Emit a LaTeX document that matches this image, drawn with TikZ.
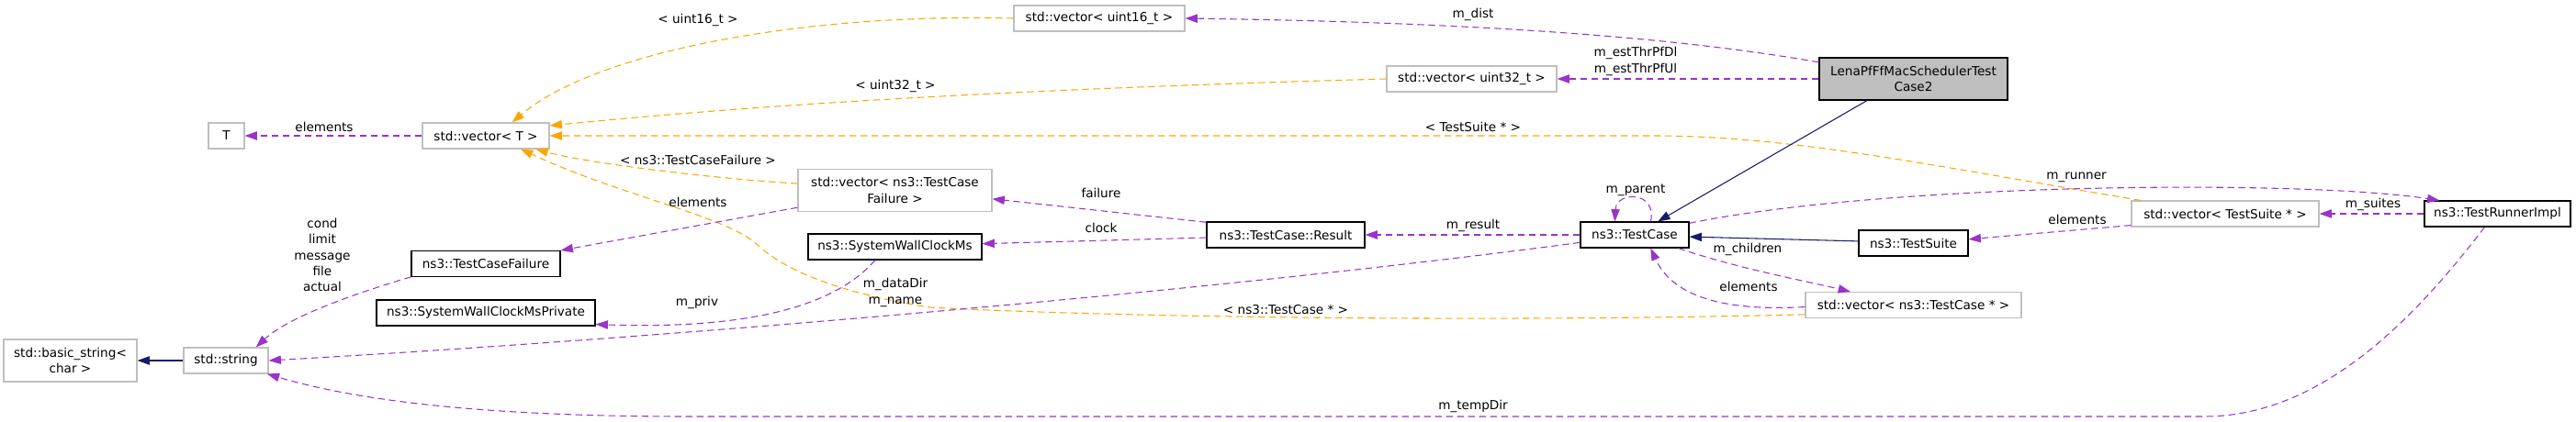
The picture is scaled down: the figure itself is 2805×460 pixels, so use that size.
\documentclass[tikz,border=0pt]{standalone}
\usepackage{fontspec}
\setmainfont{DejaVu Sans}
\usepackage{tikz}
\usetikzlibrary{arrows.meta}
\definecolor{orchid}{HTML}{9A32CD}
\definecolor{tmplorange}{HTML}{FFA500}
\definecolor{navy}{HTML}{191970}
\definecolor{grey75}{HTML}{BFBFBF}

\begin{document}
\begin{tikzpicture}[x=0.75pt, y=-0.75pt,
  >={Triangle[length=10pt,width=7pt]},
  every node/.style={font=\fontsize{10.2}{13}\selectfont, align=center, inner sep=0pt},
  cnode/.style={draw=black, line width=0.85pt, minimum height=21pt},
  gnode/.style={draw=grey75, line width=0.85pt, minimum height=21pt},
  hnode/.style={cnode, fill=grey75},
  lnode/.style={fill=none},
  uses/.style={->, draw=orchid, line width=0.8pt, dash pattern=on 5.5pt off 3.5pt},
  tmpl/.style={->, draw=tmplorange, line width=0.8pt, dash pattern=on 5.5pt off 3.5pt},
  inh/.style={->, draw=navy, line width=0.8pt}]

  \useasboundingbox (0,0) rectangle (2805,460);

  \node (bstr) [gnode, minimum width=108.75pt, minimum height=34.5pt] at (76.5,393) {std::basic\_string<\\char >};
  \node (str) [gnode, minimum width=69pt] at (246,393) {std::string};
  \node (T) [gnode, minimum width=29.25pt] at (246.5,148) {T};
  \node (vT) [gnode, minimum width=103.5pt] at (529,148) {std::vector< T >};
  \node (tcf) [cnode, minimum width=121.5pt] at (529,287.5) {ns3::TestCaseFailure};
  \node (swpriv) [cnode, minimum width=178.5pt] at (529,341) {ns3::SystemWallClockMsPrivate};
  \node (vtcf) [gnode, minimum width=158.25pt, minimum height=34pt] at (974.5,207.5) {std::vector< ns3::TestCase\\Failure >};
  \node (swc) [cnode, minimum width=141.75pt] at (974.5,269) {ns3::SystemWallClockMs};
  \node (u16) [gnode, minimum width=139.5pt] at (1197,20) {std::vector< uint16\_t >};
  \node (res) [cnode, minimum width=129pt] at (1400,256) {ns3::TestCase::Result};
  \node (u32) [gnode, minimum width=138.75pt] at (1602.5,86) {std::vector< uint32\_t >};
  \node (tc) [cnode, minimum width=88.5pt] at (1780,256) {ns3::TestCase};
  \node (lena) [hnode, minimum width=153.75pt, minimum height=34.5pt] at (2083.5,86) {LenaPfFfMacSchedulerTest\\Case2};
  \node (ts) [cnode, minimum width=89.25pt] at (2083.5,265) {ns3::TestSuite};
  \node (vtc) [gnode, minimum width=176.25pt] at (2083.5,332.5) {std::vector< ns3::TestCase * >};
  \node (vts) [gnode, minimum width=153pt] at (2423,233) {std::vector< TestSuite * >};
  \node (tri) [cnode, minimum width=119.25pt] at (2719.5,233) {ns3::TestRunnerImpl};

  % template instances
  \draw [tmpl] (u16.west) .. controls (880,14) and (650,55) .. (vT.27) node[lnode] at (760,22) {< uint16\_t >};
  \draw [tmpl] (u32.west) .. controls (1000,100) and (750,122) .. (vT.9) node[lnode] at (975,94) {< uint32\_t >};
  \draw [tmpl] (vts.171) .. controls (2100,180) and (1950,148) .. (1800,148) -- (vT.east) node[lnode] at (1604,138) {< TestSuite * >};
  \draw [tmpl] (vtcf.176) .. controls (780,195) and (640,178) .. (vT.-15) node[lnode] at (760,174) {< ns3::TestCaseFailure >};
  \draw [tmpl] (vtc.185) .. controls (1600,352) and (1200,345) .. (1012,335) .. controls (930,322) and (860,300) .. (825,267) .. controls (790,235) and (680,215) .. (vT.-21) node[lnode] at (1400,338) {< ns3::TestCase * >};

  % members
  \draw [uses] (vT) -- (T) node[lnode] at (353,138) {elements};
  \draw [uses] (tcf.190) .. controls (420,310) and (320,340) .. (str.24) node[lnode] at (351,278) {cond\\limit\\message\\file\\actual};
  \draw [uses] (vtcf.190) -- (tcf.north east) node[lnode] at (760,220) {elements};
  \draw [uses] (swc.214) .. controls (900,345) and (780,358) .. (swpriv.-6) node[lnode] at (759,330) {m\_priv};
  \draw [uses] (tc.188) .. controls (1300,320) and (700,370) .. (str.east) node[lnode] at (975,319) {m\_dataDir\\m\_name};
  \draw [uses] (tri.226) .. controls (2620,360) and (2520,454) .. (2400,454) -- (750,454) .. controls (550,454) and (400,440) .. (str.-18) node[lnode] at (1604,443) {m\_tempDir};
  \draw [uses] (res.171) -- (vtcf.-5) node[lnode] at (1199,210) {failure};
  \draw [uses] (res.182) -- (swc.2) node[lnode] at (1199,248) {clock};
  \draw [uses] (tc) -- (res) node[lnode] at (1604,246) {m\_result};
  \draw [uses] (tc.40) .. controls (1805,208) and (1760,208) .. (tc.146) node[lnode] at (1781,207) {m\_parent};
  \draw [uses] (tc.-17) .. controls (1890,292) and (1960,305) .. (vtc.168) node[lnode] at (1903,272) {m\_children};
  \draw [uses] (vtc.181) .. controls (1870,340) and (1820,320) .. (tc.-40) node[lnode] at (1904,312) {elements};
  \draw [uses] (tc.12) .. controls (2050,200) and (2500,195) .. (tri.167) node[lnode] at (2261,193) {m\_runner};
  \draw [uses] (tri) -- (vts) node[lnode] at (2584,223) {m\_suites};
  \draw [uses] (vts.187) -- (ts.4) node[lnode] at (2262,239) {elements};
  \draw [uses] (lena.170) .. controls (1850,45) and (1650,25) .. (u16.east) node[lnode] at (1604,16) {m\_dist};
  \draw [uses] (lena) -- (u32) node[lnode] at (1781,67) {m\_estThrPfDl\\m\_estThrPfUl};

  % inheritance
  \draw [inh] (lena.205) -- (tc.30);
  \draw [inh] (ts.178) -- (tc.-2);
  \draw [inh] (str) -- (bstr);
\end{tikzpicture}
\end{document}
